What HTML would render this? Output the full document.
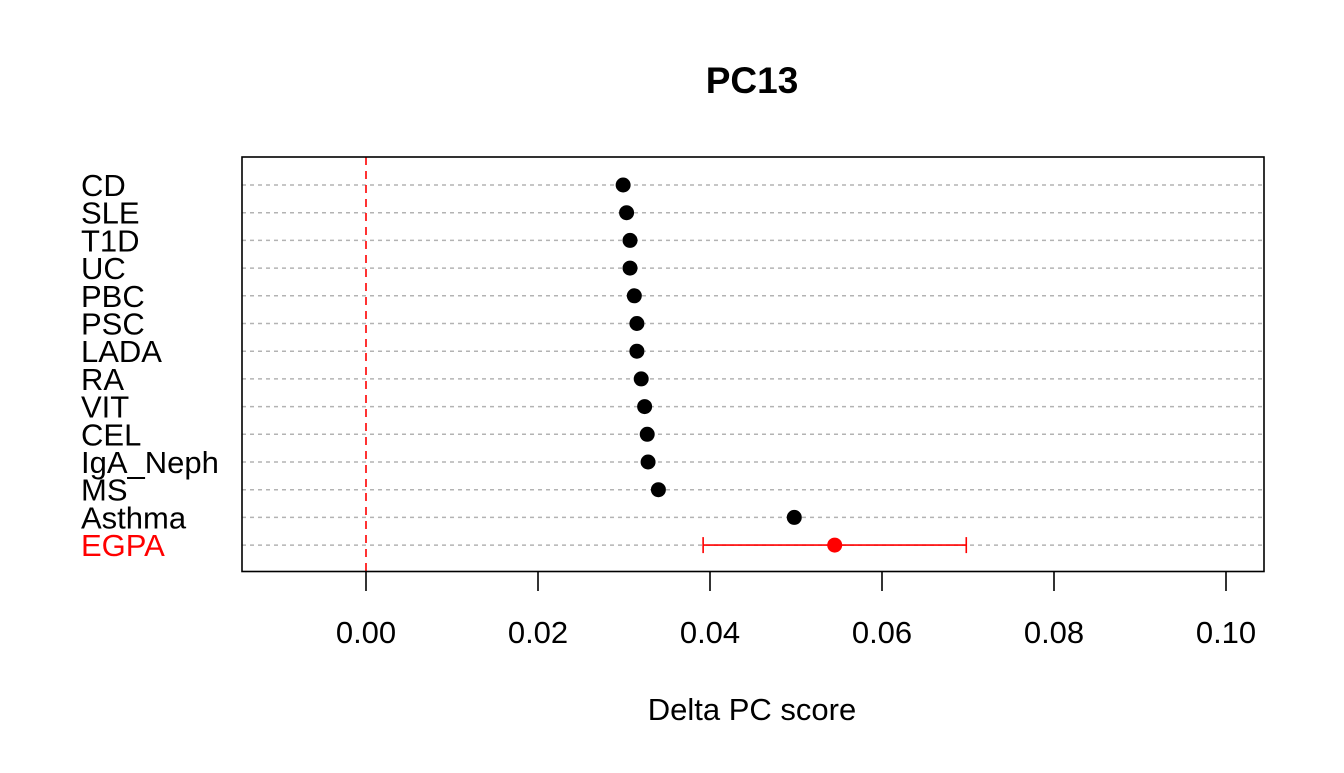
<!DOCTYPE html>
<html><head><meta charset="utf-8"><style>
body{margin:0;background:#fff;}
svg text{font-family:"Liberation Sans",Arial,sans-serif;}
</style></head><body>
<svg id="chart" width="1344" height="768" xmlns="http://www.w3.org/2000/svg">
<text x="752" y="93" text-anchor="middle" font-size="37" font-weight="bold">PC13</text>
<g id="grid"></g>
<g id="marks"></g>
<line x1="366" y1="157" x2="366" y2="572" stroke="#ff0000" stroke-width="1.6" stroke-dasharray="8,6"/>
<rect x="242" y="157" width="1022" height="414.5" fill="none" stroke="#000" stroke-width="1.6"/>
<g id="axis"></g>
<text x="752" y="720" text-anchor="middle" font-size="31">Delta PC score</text>
</svg>
<script>
const categories=["CD","SLE","T1D","UC","PBC","PSC","LADA","RA","VIT","CEL","IgA_Neph","MS","Asthma","EGPA"];
const values=[0.0299,0.0303,0.0307,0.0307,0.0312,0.0315,0.0315,0.0320,0.0324,0.0327,0.0328,0.0340,0.0498,0.0545];
const ciLow=[null,null,null,null,null,null,null,null,null,null,null,null,null,0.0392];
const ciHigh=[null,null,null,null,null,null,null,null,null,null,null,null,null,0.0698];
const highlight=["EGPA"];
const xTicks=[0,0.02,0.04,0.06,0.08,0.10];
const xTickLabels=["0.00","0.02","0.04","0.06","0.08","0.10"];
const NS="http://www.w3.org/2000/svg";
const xs=v=>366+v*8600;
const ys=i=>185+i*27.7;
function mk(t,a,p){const e=document.createElementNS(NS,t);for(const k in a)e.setAttribute(k,a[k]);p.appendChild(e);return e;}
const grid=document.getElementById('grid'),marks=document.getElementById('marks'),axis=document.getElementById('axis');
categories.forEach((c,i)=>{
  const y=ys(i);const hl=highlight.includes(c);const col=hl?'#ff0000':'#000';
  const g=mk('line',{x1:242,x2:1264,y1:y,y2:y,stroke:'#b3b3b3','stroke-width':1.5,'stroke-dasharray':'4,4'},grid);
  
  
  const t=mk('text',{x:81,y:y+11,'font-size':31,fill:col},axis);t.textContent=c;
  
  
  if(ciLow[i]!==null){
    const l=mk('line',{x1:xs(ciLow[i]),x2:xs(ciHigh[i]),y1:y,y2:y,stroke:col,'stroke-width':1.6},marks);
    
    
    [ciLow[i],ciHigh[i]].forEach(v=>{const cap=mk('line',{x1:xs(v),x2:xs(v),y1:y-8,y2:y+8,stroke:col,'stroke-width':1.6},marks);
      
      });
  }
  const d=mk('circle',{cx:xs(values[i]),cy:y,r:7.5,fill:col},marks);
  
  
});
xTicks.forEach((v,i)=>{
  const l=mk('line',{x1:xs(v),x2:xs(v),y1:572,y2:591,stroke:'#000','stroke-width':1.6},axis);
  
  
  const t=mk('text',{x:xs(v),y:643,'text-anchor':'middle','font-size':31},axis);t.textContent=xTickLabels[i];
  
  
});
</script>
</body></html>
